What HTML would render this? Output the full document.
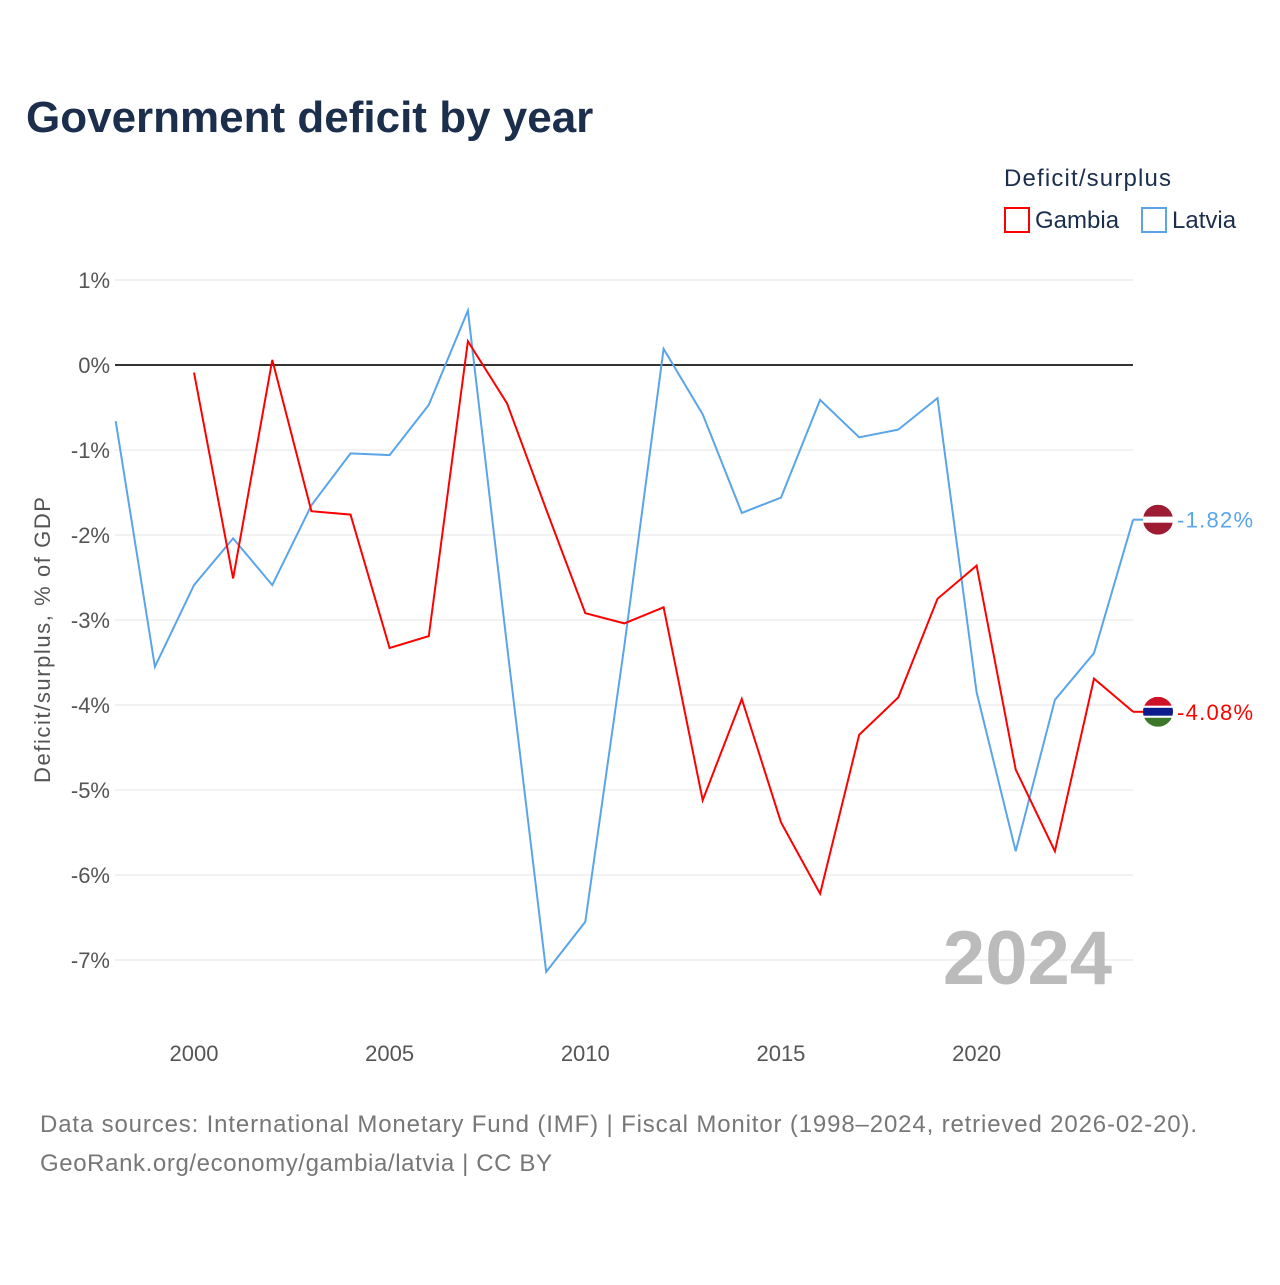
<!DOCTYPE html>
<html><head><meta charset="utf-8">
<style>
body{margin:0;background:#fff;}
svg text{font-family:"Liberation Sans",sans-serif;}
</style></head>
<body>
<svg id="chart" width="1280" height="1280" viewBox="0 0 1280 1280" xmlns="http://www.w3.org/2000/svg">
<rect width="1280" height="1280" fill="#fff"/>
<text x="26" y="132" font-size="44" font-weight="bold" fill="#1b2e4b">Government deficit by year</text>
<text x="1004" y="186" font-size="24" fill="#1b2e4b" textLength="167">Deficit/surplus</text>
<g><rect x="1005" y="208" width="24" height="24" fill="none" stroke="#ff0000" stroke-width="2"/><text x="1035" y="228" font-size="24" fill="#1b2e4b">Gambia</text></g>
<g><rect x="1142" y="208" width="24" height="24" fill="none" stroke="#5aa5ea" stroke-width="2"/><text x="1172" y="228" font-size="24" fill="#1b2e4b">Latvia</text></g>
<text transform="translate(50,640) rotate(-90)" text-anchor="middle" font-size="22" fill="#555" textLength="286">Deficit/surplus, % of GDP</text>
<g id="grid"></g><g id="xticks"></g><g id="series"></g>
<text x="1112" y="984" text-anchor="end" font-size="76" font-weight="bold" fill="#bbb">2024</text>
<text x="40" y="1132" font-size="24" fill="#777" textLength="1157">Data sources: International Monetary Fund (IMF) | Fiscal Monitor (1998–2024, retrieved 2026-02-20).</text>
<text x="40" y="1171" font-size="24" fill="#777" textLength="512">GeoRank.org/economy/gambia/latvia | CC BY</text>
</svg>
<script>
const years=[1998,1999,2000,2001,2002,2003,2004,2005,2006,2007,2008,2009,2010,2011,2012,2013,2014,2015,2016,2017,2018,2019,2020,2021,2022,2023,2024];
const latvia=[-0.66,-3.55,-2.59,-2.04,-2.59,-1.65,-1.04,-1.06,-0.47,0.64,-3.3,-7.14,-6.55,-3.3,0.19,-0.58,-1.74,-1.56,-0.41,-0.85,-0.76,-0.39,-3.85,-5.72,-3.94,-3.39,-1.82];
const gambia=[null,null,-0.09,-2.51,0.06,-1.72,-1.76,-3.33,-3.19,0.28,-0.45,-1.7,-2.92,-3.04,-2.85,-5.12,-3.93,-5.38,-6.22,-4.35,-3.91,-2.75,-2.36,-4.76,-5.72,-3.69,-4.08];
const yTicks=[1,0,-1,-2,-3,-4,-5,-6,-7];
const xTicks=[2000,2005,2010,2015,2020];
const NS="http://www.w3.org/2000/svg";
const X=y=>194+(y-2000)*39.13;
const Y=v=>365-v*85;
function mk(tag,attrs,parent,txt){const e=document.createElementNS(NS,tag);for(const k in attrs)e.setAttribute(k,attrs[k]);if(txt!=null)e.textContent=txt;parent.appendChild(e);return e;}
const grid=document.getElementById('grid');
yTicks.forEach(t=>{
 const l=mk('line',{x1:115,x2:1133,y1:Y(t),y2:Y(t),stroke:t===0?'#333':'#e6e6e6','stroke-width':t===0?2:1},grid);
 
 
 const tx=mk('text',{x:110,y:Y(t)+8,'text-anchor':'end','font-size':22,fill:'#555'},grid,t+'%');
 
 
});
const xt=document.getElementById('xticks');
xTicks.forEach(t=>{
 const tx=mk('text',{x:X(t),y:1061,'text-anchor':'middle','font-size':22,fill:'#555'},xt,String(t));
 
 
});
const sg=document.getElementById('series');
function path(vals,color,name){
 let d='';vals.forEach((v,i)=>{if(v==null)return;d+=(d?'L':'M')+X(years[i]).toFixed(1)+','+Y(v).toFixed(1);});
 const p=mk('path',{d:d,fill:'none',stroke:color,'stroke-width':2},sg);
 
 
}
path(latvia,'#5aa5ea','latvia-line');
path(gambia,'#ff0000','gambia-line');
function flag(v,stripes,name,label,color){
 const cy=Y(v),cx=1158,g=mk('g',{},sg);
 
 
 mk('line',{x1:1133,x2:1144,y1:cy,y2:cy,stroke:color,'stroke-width':2},g);
 const id='c'+name;const cp=mk('clipPath',{id:id},g);mk('circle',{cx:cx,cy:cy,r:15},cp);
 let y0=cy-15;stripes.forEach(s=>{mk('rect',{x:cx-15,y:y0,width:30,height:s[1],fill:s[0],'clip-path':'url(#'+id+')'},g);y0+=s[1];});
 const t=mk('text',{x:1177,y:cy+8,'font-size':22,fill:color,textLength:76},g,label);
 
 
}
flag(latvia[latvia.length-1],[['#9e1b34',12],['#fff',6],['#9e1b34',12]],'latvia-flag','-1.82%','#5aa5ea');
flag(gambia[gambia.length-1],[['#ce1126',9],['#fff',2],['#0c1c8c',8],['#fff',2],['#3a7728',9]],'gambia-flag','-4.08%','#ff0000');
</script>
</body></html>
